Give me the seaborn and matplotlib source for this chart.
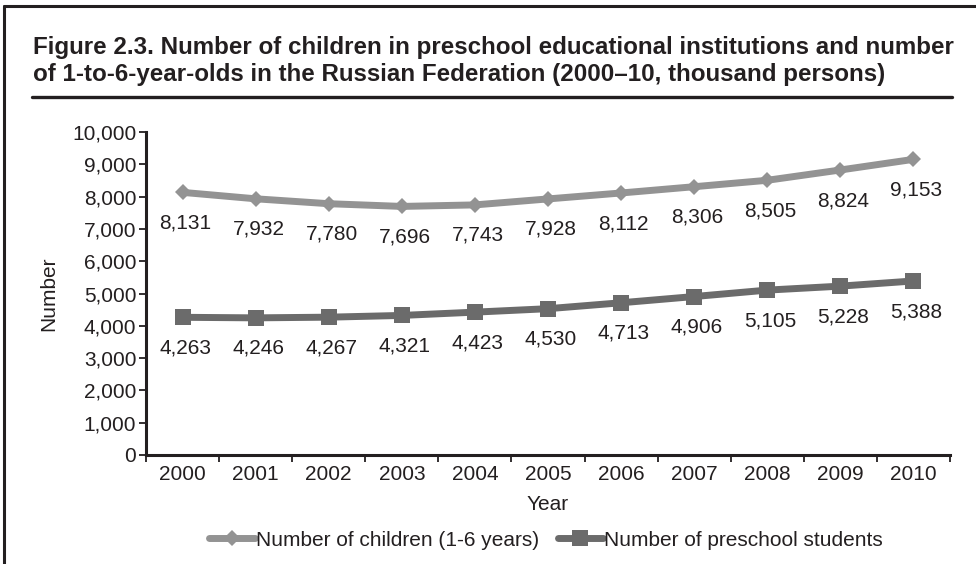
import matplotlib
matplotlib.use("Agg")
import matplotlib.pyplot as plt
from matplotlib.lines import Line2D
import numpy as np
import pandas as pd
import seaborn as sns

years = [2000, 2001, 2002, 2003, 2004, 2005, 2006, 2007, 2008, 2009, 2010]
children = [8131, 7932, 7780, 7696, 7743, 7928, 8112, 8306, 8505, 8824, 9153]
students = [4263, 4246, 4267, 4321, 4423, 4530, 4713, 4906, 5105, 5228, 5388]
series_names = ["Number of children (1-6 years)", "Number of preschool students"]
y_ticks = [0, 1000, 2000, 3000, 4000, 5000, 6000, 7000, 8000, 9000, 10000]

title = ("Figure 2.3. Number of children in preschool educational institutions and number\n"
         "of 1-to-6-year-olds in the Russian Federation (2000\u201310, thousand persons)")

sns.set_theme(style="white")
plt.rcParams["font.family"] = ["Liberation Sans", "DejaVu Sans"]

text_col = "#231f20"
colors = ["#939393", "#6b6b6b"]
markers = ["D", "s"]
msizes = [8.2, 11]

df = pd.DataFrame({
    "Year": years * 2,
    "Number": children + students,
    "Series": [series_names[0]] * len(years) + [series_names[1]] * len(years),
})

fig = plt.figure(figsize=(9.76, 5.64), dpi=100)
ax = fig.add_axes([146 / 976, 1 - 455 / 564, 804 / 976, 323 / 564])

for i, name in enumerate(series_names):
    sub = df[df["Series"] == name]
    sns.lineplot(data=sub, x="Year", y="Number", ax=ax, color=colors[i],
                 linewidth=5, marker=markers[i], markersize=msizes[i],
                 markeredgewidth=0, legend=False, zorder=3 + i)
    for x, v in zip(sub["Year"], sub["Number"]):
        ax.annotate(f"{v:,}", (x, v), xytext=(2, -22), textcoords="offset points",
                    ha="center", va="center", fontsize=15, color=text_col)

ax.set_xlim(1999.5, 2010.5)
ax.set_ylim(0, 10000)
ax.set_yticks(y_ticks)
ax.set_yticklabels([f"{t:,}" for t in y_ticks])
ax.set_xticks(np.arange(1999.5, 2011, 1.0))
ax.set_xticklabels([])
ax.set_xticks(years, minor=True)
ax.set_xticklabels([str(y) for y in years], minor=True)
ax.tick_params(axis="x", which="major", direction="out", length=5, width=1.3,
               color=text_col, bottom=True)
ax.tick_params(axis="x", which="minor", length=0, labelsize=15, labelcolor=text_col, pad=7)
ax.tick_params(axis="y", direction="out", length=5, width=1.3, color=text_col,
               left=True, labelsize=15, labelcolor=text_col, pad=2)

for side in ["top", "right"]:
    ax.spines[side].set_visible(False)
for side in ["left", "bottom"]:
    ax.spines[side].set_color(text_col)
    ax.spines[side].set_linewidth(2.2)

ax.set_xlabel("Year", fontsize=15, color=text_col, labelpad=8)
ax.set_ylabel("Number", fontsize=15, color=text_col, labelpad=10)

handles = [Line2D([], [], color=colors[i], linewidth=5, marker=markers[i],
                  markersize=msizes[i], markeredgewidth=0) for i in range(2)]
fig.legend(handles, series_names, loc="center", bbox_to_anchor=(546 / 976, 1 - 540 / 564),
           ncol=2, frameon=False, fontsize=15, handlelength=2.2, handletextpad=0.05,
           columnspacing=0.9, labelcolor=text_col)

fig.text(33 / 976, 1 - 61 / 564, title, fontsize=17.4, fontweight="bold", color=text_col,
         ha="left", va="center", linespacing=1.17)

# frame and title rule
fig.add_artist(Line2D([4 / 976, 4 / 976], [0, 1 - 6 / 564], transform=fig.transFigure,
                      color=text_col, linewidth=2.2))
fig.add_artist(Line2D([4 / 976, 1], [1 - 6 / 564, 1 - 6 / 564], transform=fig.transFigure,
                      color=text_col, linewidth=2.2))
fig.add_artist(Line2D([32 / 976, 952 / 976], [1 - 97 / 564, 1 - 97 / 564],
                      transform=fig.transFigure, color=text_col, linewidth=2.4))

fig.savefig("out.png", dpi=100)
